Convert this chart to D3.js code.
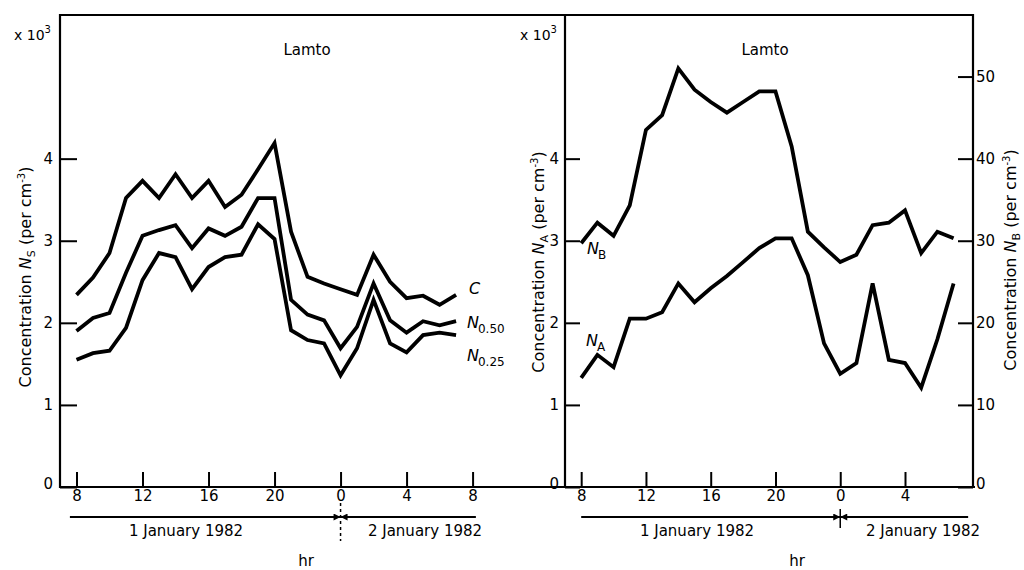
<!DOCTYPE html>
<html>
<head>
<meta charset="utf-8">
<script src="https://cdn.jsdelivr.net/npm/d3@7"></script>
<style>
body { margin: 0; background: #fff; }
text { font-family: "DejaVu Sans", sans-serif; fill: #000; }
.curve { fill: none; stroke: #000; stroke-width: 3.8; stroke-linejoin: miter; }
.frame { stroke: #000; stroke-width: 2.2; }
.axis path { display: none; }
.axis line { stroke: #000; stroke-width: 2; }
.axis text { font-size: 15px; }
</style>
</head>
<body>
<div id="main"></div>
<script>

var width = 1024,
    height = 570;

// hour of 1 January 1982 (24 = midnight, 31 = 07:00 on 2 January)
var hours = [8, 9, 10, 11, 12, 13, 14, 15, 16, 17, 18, 19, 20, 21, 22, 23, 24, 25, 26, 27, 28, 29, 30, 31];

// left panel, x10^3 per cm^-3
var seriesC   = [2.34, 2.55, 2.85, 3.52, 3.73, 3.52, 3.81, 3.52, 3.73, 3.41, 3.56, 3.87, 4.19, 3.11, 2.56, 2.48, 2.41, 2.34, 2.83, 2.50, 2.30, 2.33, 2.22, 2.34];
var seriesN50 = [1.90, 2.06, 2.12, 2.61, 3.06, 3.13, 3.19, 2.91, 3.15, 3.06, 3.17, 3.52, 3.52, 2.28, 2.10, 2.03, 1.69, 1.95, 2.48, 2.03, 1.88, 2.02, 1.97, 2.02];
var seriesN25 = [1.55, 1.63, 1.66, 1.94, 2.52, 2.85, 2.80, 2.41, 2.68, 2.80, 2.83, 3.20, 3.02, 1.91, 1.79, 1.75, 1.36, 1.69, 2.28, 1.75, 1.64, 1.85, 1.88, 1.85];

// right panel: N_A in x10^3 per cm^-3, N_B in per cm^-3
var seriesNA = [1.33, 1.61, 1.46, 2.05, 2.05, 2.13, 2.48, 2.25, 2.42, 2.57, 2.74, 2.91, 3.03, 3.03, 2.58, 1.75, 1.38, 1.51, 2.48, 1.55, 1.51, 1.21, 1.80, 2.48];
var seriesNB = [29.7, 32.2, 30.6, 34.3, 43.5, 45.3, 51.0, 48.4, 46.9, 45.6, 46.9, 48.2, 48.2, 41.5, 31.1, 29.2, 27.4, 28.3, 31.9, 32.2, 33.7, 28.5, 31.1, 30.3];

var yTicks = [0, 1, 2, 3, 4];
var nbTicks = [0, 10, 20, 30, 40, 50];
var xTicksLeft = [8, 12, 16, 20, 24, 28, 32];
var xLabelsLeft = ["8", "12", "16", "20", "0", "4", "8"];
var xTicksRight = [8, 12, 16, 20, 24, 28];
var xLabelsRight = ["8", "12", "16", "20", "0", "4"];

var svg = d3.select("div#main")
    .append("svg")
    .attr("width", width)
    .attr("height", height);

var defs = svg.append("defs");
defs.append("marker")
    .attr("id", "head")
    .attr("viewBox", "0 0 10 10")
    .attr("refX", 10)
    .attr("refY", 5)
    .attr("markerWidth", 12)
    .attr("markerHeight", 7)
    .attr("markerUnits", "userSpaceOnUse")
    .attr("orient", "auto")
    .append("path")
    .attr("d", "M0,0 L10,5 L0,10 z")
    .attr("fill", "#000");

var plotTop = 15, plotBottom = 487;

var xL = d3.scaleLinear().domain([7, 37.6]).range([60, 565]);
var xR = d3.scaleLinear().domain([7, 32.2]).range([565, 973]);
var y = d3.scaleLinear().domain([0, 5.75]).range([plotBottom, plotTop]);
var yB = d3.scaleLinear().domain([0, 57.5]).range([plotBottom, plotTop]);

// frame
svg.append("line").attr("class", "frame")
    .attr("x1", 59).attr("y1", plotTop).attr("x2", 974).attr("y2", plotTop);
svg.append("line").attr("class", "frame")
    .attr("x1", 59).attr("y1", plotBottom).attr("x2", 975).attr("y2", plotBottom);
svg.append("line").attr("class", "frame")
    .attr("x1", 60).attr("y1", plotTop - 1).attr("x2", 60).attr("y2", plotBottom + 1);
svg.append("line").attr("class", "frame")
    .attr("x1", 565).attr("y1", plotTop - 1).attr("x2", 565).attr("y2", plotBottom + 1);
svg.append("line").attr("class", "frame")
    .attr("x1", 973).attr("y1", plotTop - 1).attr("x2", 973).attr("y2", plotBottom + 1);

// axes
svg.append("g").attr("class", "axis")
    .attr("transform", "translate(60,0)")
    .call(d3.axisLeft(y).tickValues(yTicks).tickSize(-17).tickPadding(7).tickFormat(d3.format("d")));

svg.append("g").attr("class", "axis")
    .attr("transform", "translate(565,0)")
    .call(d3.axisLeft(y).tickValues(yTicks).tickSize(-15).tickPadding(6).tickFormat(d3.format("d")));

svg.append("g").attr("class", "axis")
    .attr("transform", "translate(973,0)")
    .call(d3.axisRight(yB).tickValues(nbTicks).tickSize(-15).tickPadding(3).tickFormat(d3.format("d")));

svg.append("g").attr("class", "axis")
    .attr("transform", "translate(0," + plotBottom + ")")
    .call(d3.axisBottom(xL).tickValues(xTicksLeft).tickSize(-15).tickPadding(3)
          .tickFormat(function(d, i) { return xLabelsLeft[i]; }));

svg.append("g").attr("class", "axis")
    .attr("transform", "translate(0," + plotBottom + ")")
    .call(d3.axisBottom(xR).tickValues(xTicksRight).tickSize(-15).tickPadding(3)
          .tickFormat(function(d, i) { return xLabelsRight[i]; }));

// the zero labels sit just above the baseline in the original
svg.selectAll(".axis .tick").filter(function(d) { return d === 0; })
    .select("text").attr("dy", "0.1em");

// curves
function drawCurve(xs, ys, values) {
    var line = d3.line()
        .x(function(d, i) { return xs(hours[i]); })
        .y(function(d) { return ys(d); });
    svg.append("path")
        .datum(values)
        .attr("class", "curve")
        .attr("d", line);
}

drawCurve(xL, y, seriesC);
drawCurve(xL, y, seriesN50);
drawCurve(xL, y, seriesN25);
drawCurve(xR, y, seriesNA);
drawCurve(xR, yB, seriesNB);

// curve labels
function curveLabel(x, yy, name, sub) {
    var t = svg.append("text")
        .attr("x", x).attr("y", yy)
        .style("font-size", "16px");
    t.append("tspan").style("font-style", "italic").text(name);
    if (sub) {
        t.append("tspan").attr("dy", 5).attr("dx", -1).style("font-size", "12px").text(sub);
    }
}

curveLabel(469, 294, "C");
curveLabel(467, 328, "N", "0.50");
curveLabel(467, 361, "N", "0.25");
curveLabel(587, 254, "N", "B");
curveLabel(586, 346, "N", "A");

// titles and multipliers
svg.append("text").attr("x", 307).attr("y", 55)
    .attr("text-anchor", "middle").style("font-size", "15px").text("Lamto");
svg.append("text").attr("x", 765).attr("y", 55)
    .attr("text-anchor", "middle").style("font-size", "15px").text("Lamto");

function multiplier(x, yy) {
    var t = svg.append("text").attr("x", x).attr("y", yy).style("font-size", "14px");
    t.append("tspan").text("x 10");
    t.append("tspan").attr("dy", -7).style("font-size", "10px").text("3");
}
multiplier(14, 40);
multiplier(520, 40);

// vertical axis titles
function axisTitle(x, yy, sub) {
    var t = svg.append("text")
        .attr("transform", "translate(" + x + "," + yy + ") rotate(-90)")
        .attr("text-anchor", "middle")
        .style("font-size", "16px");
    t.append("tspan").text("Concentration ");
    t.append("tspan").style("font-style", "italic").text("N");
    t.append("tspan").attr("dy", 4).style("font-size", "11px").text(sub);
    t.append("tspan").attr("dy", -4).text(" (per cm");
    t.append("tspan").attr("dy", -6).style("font-size", "10px").text("-3");
    t.append("tspan").attr("dy", 6).text(")");
}
axisTitle(31, 277, "S");
axisTitle(544, 262, "A");
axisTitle(1016, 260, "B");

// date bars under the time axes
function dateBar(xs, from, to, mid, yy) {
    svg.append("line")
        .attr("x1", xs(from)).attr("y1", yy).attr("x2", xs(mid)).attr("y2", yy)
        .attr("stroke", "#000").attr("stroke-width", 2)
        .attr("marker-end", "url(#head)");
    svg.append("line")
        .attr("x1", xs(to)).attr("y1", yy).attr("x2", xs(mid)).attr("y2", yy)
        .attr("stroke", "#000").attr("stroke-width", 2)
        .attr("marker-end", "url(#head)");
}

dateBar(xL, 7.6, 32.2, 24, 517);
dateBar(xR, 8, 31.9, 24, 517);

svg.append("line")
    .attr("x1", xL(24)).attr("y1", 503).attr("x2", xL(24)).attr("y2", 541)
    .attr("stroke", "#000").attr("stroke-width", 1.5).attr("stroke-dasharray", "3,3");
svg.append("line")
    .attr("x1", xR(24)).attr("y1", 509).attr("x2", xR(24)).attr("y2", 528)
    .attr("stroke", "#000").attr("stroke-width", 1.5);

function dateText(x, txt) {
    svg.append("text").attr("x", x).attr("y", 536)
        .attr("text-anchor", "middle").style("font-size", "15px").text(txt);
}
dateText(186, "1 January 1982");
dateText(425, "2 January 1982");
dateText(697, "1 January 1982");
dateText(923, "2 January 1982");

svg.append("text").attr("x", 306).attr("y", 566)
    .attr("text-anchor", "middle").style("font-size", "15px").text("hr");
svg.append("text").attr("x", 797).attr("y", 566)
    .attr("text-anchor", "middle").style("font-size", "15px").text("hr");

</script>
</body>
</html>
